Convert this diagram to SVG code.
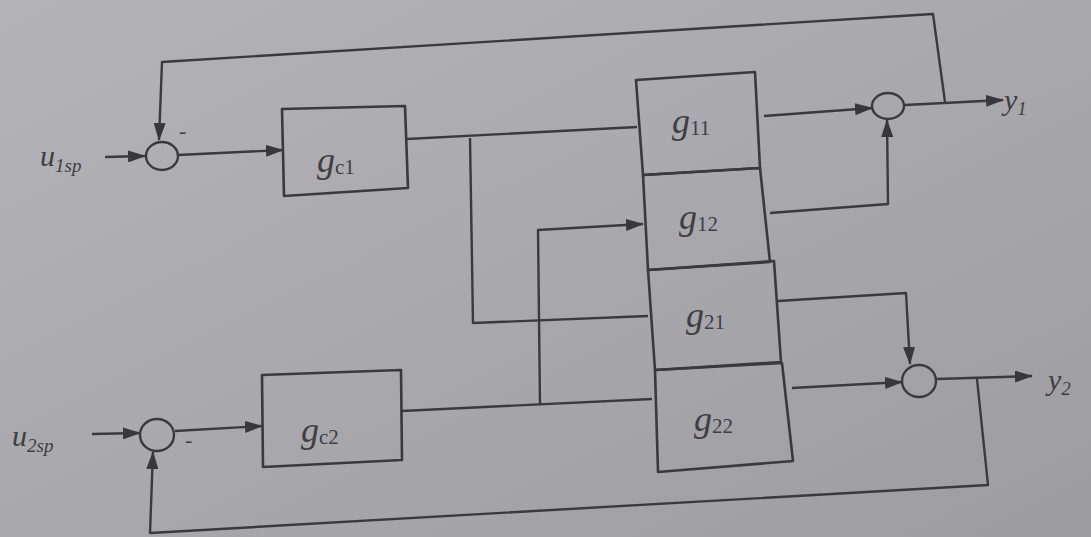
<svg xmlns="http://www.w3.org/2000/svg" width="1091" height="537" viewBox="0 0 1091 537">
  <defs>
    <linearGradient id="paper" x1="0" y1="0" x2="1" y2="1">
      <stop offset="0" stop-color="#b4b3b8"/>
      <stop offset="0.5" stop-color="#a9a8ad"/>
      <stop offset="1" stop-color="#9d9ca1"/>
    </linearGradient>
    <marker id="arrow" viewBox="0 0 18 12" refX="17" refY="6" markerWidth="18" markerHeight="12" markerUnits="userSpaceOnUse" orient="auto">
      <path d="M0,0 L18,6 L0,12 Z" fill="#38373c"/>
    </marker>
  </defs>
  <style>
    .blk { fill: none; stroke: #3a393e; stroke-width: 2.6; stroke-linejoin: round; }
    .sum { fill: none; stroke: #3a393e; stroke-width: 2.4; }
    .wire { fill: none; stroke: #3a393e; stroke-width: 2.4; stroke-linejoin: round; }
    .arr { marker-end: url(#arrow); }
    .lbl { font-family: "Liberation Serif", "DejaVu Serif", serif; font-style: italic; fill: #3f3e43; }
    .g { font-size: 36px; }
    .sub { font-size: 21px; font-style: normal; }
    .io { font-size: 30px; }
    .iosub { font-size: 19px; }
  </style>

  <rect x="0" y="0" width="1091" height="537" fill="url(#paper)"/>

  <!-- signal lines -->
  <g id="connectors">
    <polyline class="wire arr" points="105,157 145,156"/>
    <polyline class="wire arr" points="178,155 283,150"/>
    <polyline class="wire arr" points="945,102 933,14 162,62 159,140"/>
    <polyline class="wire" points="407,139 637,127"/>
    <polyline class="wire" points="470,138 473,323 648,316"/>
    <polyline class="wire arr" points="540,405 538,230 643,224"/>
    <polyline class="wire arr" points="92,434 140,433"/>
    <polyline class="wire arr" points="175,431 262,426"/>
    <polyline class="wire" points="402,411 652,399"/>
    <polyline class="wire arr" points="977,379 988,485 150,533 153,452"/>
    <polyline class="wire arr" points="764,116 872,108"/>
    <polyline class="wire arr" points="770,213 888,204 887,120"/>
    <polyline class="wire arr" points="905,105 1003,100"/>
    <polyline class="wire arr" points="778,301 906,293 910,364"/>
    <polyline class="wire arr" points="792,388 902,382"/>
    <polyline class="wire arr" points="937,379 1032,376"/>
  </g>

  <!-- input labels -->
  <g id="u1sp">
    <text class="lbl io" x="40" y="166">u<tspan class="iosub" dy="6">1sp</tspan></text>
  </g>
  <g id="u2sp">
    <text class="lbl io" x="12" y="446">u<tspan class="iosub" dy="6">2sp</tspan></text>
  </g>

  <!-- summing junctions -->
  <g id="sum1">
    <ellipse class="sum" cx="162" cy="156" rx="16" ry="14"/>
    <text class="lbl" x="179" y="138" font-size="22" font-style="normal">-</text>
  </g>
  <g id="sum2">
    <ellipse class="sum" cx="157" cy="435" rx="17" ry="16"/>
    <text class="lbl" x="185" y="447" font-size="22" font-style="normal">-</text>
  </g>
  <g id="sumY1">
    <ellipse class="sum" cx="888" cy="106" rx="16" ry="13"/>
  </g>
  <g id="sumY2">
    <ellipse class="sum" cx="919" cy="381" rx="17" ry="16"/>
  </g>

  <!-- controllers -->
  <g id="gc1">
    <polygon class="blk" points="282,109 405,106 408,188 284,196"/>
    <text class="lbl g" x="317" y="172">g<tspan class="sub" dy="2">c1</tspan></text>
  </g>
  <g id="gc2">
    <polygon class="blk" points="262,375 401,370 402,460 263,467"/>
    <text class="lbl g" x="301" y="442">g<tspan class="sub" dy="2">c2</tspan></text>
  </g>

  <!-- process blocks -->
  <g id="g11">
    <polygon class="blk" points="636,80 755,72 760,168 643,175"/>
    <text class="lbl g" x="672" y="133">g<tspan class="sub" dy="2">11</tspan></text>
  </g>
  <g id="g12">
    <polygon class="blk" points="643,175 760,168 770,262 648,270"/>
    <text class="lbl g" x="679" y="229">g<tspan class="sub" dy="2">12</tspan></text>
  </g>
  <g id="g21">
    <polygon class="blk" points="648,270 774,261 781,362 655,370"/>
    <text class="lbl g" x="686" y="327">g<tspan class="sub" dy="2">21</tspan></text>
  </g>
  <g id="g22">
    <polygon class="blk" points="655,370 782,363 793,461 658,472"/>
    <text class="lbl g" x="694" y="431">g<tspan class="sub" dy="2">22</tspan></text>
  </g>

  <!-- output labels -->
  <g id="y1">
    <text class="lbl io" x="1004" y="110">y<tspan class="iosub" dy="5">1</tspan></text>
  </g>
  <g id="y2">
    <text class="lbl io" x="1048" y="390">y<tspan class="iosub" dy="5">2</tspan></text>
  </g>
</svg>
